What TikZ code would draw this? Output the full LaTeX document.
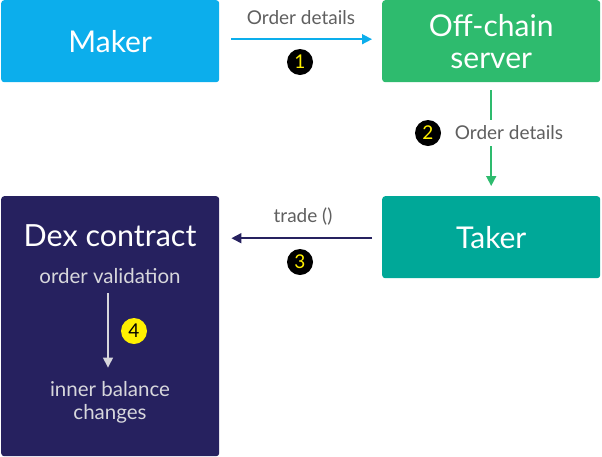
\documentclass[tikz,border=0pt]{standalone}
\usepackage{fontspec}
\setmainfont{Lato}
\usetikzlibrary{arrows.meta}

\definecolor{makerblue}{RGB}{12,174,236}
\definecolor{servergreen}{RGB}{46,187,110}
\definecolor{takerteal}{RGB}{0,168,152}
\definecolor{dexnavy}{RGB}{38,33,95}
\definecolor{labelgrey}{RGB}{95,95,95}
\definecolor{innergrey}{RGB}{215,215,220}
\definecolor{stepyellow}{RGB}{255,240,0}

\tikzset{
  party/.style={rounded corners=3pt,minimum width=218pt,minimum height=82pt,text=white,font=\fontsize{30}{32}\selectfont,align=center,inner sep=0pt},
  msglabel/.style={text=labelgrey,font=\fontsize{19}{22}\selectfont,inner sep=1pt},
  stepdot/.style={circle,fill=black,text=stepyellow,minimum size=26pt,inner sep=0pt,font=\fontsize{19}{19}\selectfont},
  flow/.style={line width=1.6pt,-{Triangle[length=10pt,width=10pt]}}
}

\begin{document}
\begin{tikzpicture}[x=1pt,y=-1pt]
\useasboundingbox (0,0) rectangle (602,456);
% the four parties
\node[party,fill=makerblue,anchor=north west] (maker) at (1,0) {Maker};
\node[party,fill=servergreen,anchor=north west] (server) at (382,0) {Off-chain\\server};
\node[party,fill=takerteal,anchor=north west] (taker) at (382,196) {Taker};
\node[party,fill=dexnavy,anchor=north west,minimum height=260pt] (dex) at (1,196) {};

% inside the contract
\node[text=white,font=\fontsize{30.5}{32}\selectfont] (dextitle) at (110,236) {Dex contract};
\node[text=innergrey,font=\fontsize{20.5}{24}\selectfont] (valid) at (110,276) {order validation};
\node[text=innergrey,font=\fontsize{20.5}{23}\selectfont,align=center] (inner) at (110,402) {inner balance\\changes};
\draw[flow,innergrey,line width=1.4pt,shorten <=6pt,shorten >=10pt] ([xshift=-2pt]valid.south) -- ([xshift=-2pt]inner.north);
\node[stepdot,fill=stepyellow,text=black] (s4) at (134,331) {4};

% step 1
\draw[flow,makerblue,shorten <=12pt,shorten >=10pt] ([yshift=2pt]maker.east) -- ([yshift=2pt]server.west);
\node[msglabel] (l1) at (301,18) {Order details};
\node[stepdot] (s1) at (300,62) {1};

% step 2
\draw[flow,servergreen,shorten <=8pt,shorten >=10pt] (server.south) -- (taker.north);
\node[msglabel,fill=white,inner ysep=6pt] (l2) at (509,133) {Order details};
\node[stepdot] (s2) at (428,133) {2};

% step 3
\draw[flow,dexnavy,shorten <=10pt,shorten >=12pt] ([yshift=-1pt]taker.west) -- ([yshift=-1pt]dex.east |- taker.west);
\node[msglabel] (l3) at (303,217) {trade ()};
\node[stepdot] (s3) at (300,262) {3};
\end{tikzpicture}
\end{document}
